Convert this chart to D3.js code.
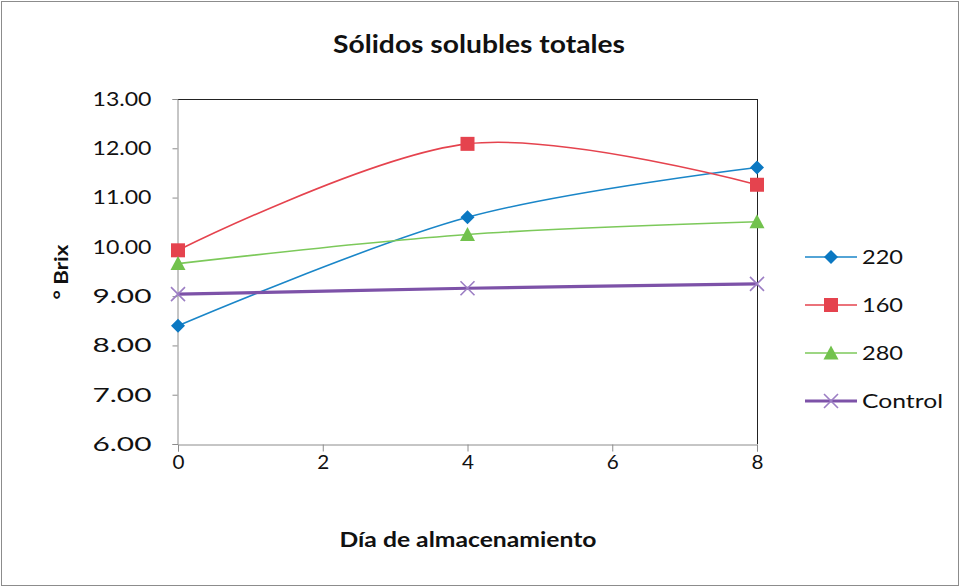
<!DOCTYPE html>
<html><head><meta charset="utf-8">
<script src="https://cdn.jsdelivr.net/npm/d3@7"></script>
<style>body{margin:0;background:#fff}svg{display:block}text{font-family:Lato,"Open Sans",sans-serif;fill:#111}</style>
</head><body><svg id="c" width="961" height="588"></svg>
<script>
const days = [0, 4, 8];
const seriesNames = ["220", "160", "280", "Control"];
const s220 = [8.40, 10.60, 11.61];
const s160 = [9.93, 12.09, 11.26];
const s280 = [9.66, 10.25, 10.51];
const sControl = [9.04, 9.16, 9.25];
const xTicks = [0, 2, 4, 6, 8];
const yTicks = [6, 7, 8, 9, 10, 11, 12, 13];
const colors = ["#1a86c8", "#e5434e", "#7cc95a", "#7d52a8"];
const markerColors = ["#0b78c2", "#e5434e", "#72c24d", "#9c7ec4"];
const shapes = ["diamond", "square", "triangle", "x"];
const values = [s220, s160, s280, sControl];

const svg = d3.select("#c");
svg.append("rect").attr("x", 1.5).attr("y", 1.5).attr("width", 957).attr("height", 584)
  .attr("fill", "#fff").attr("stroke", "#8c8c8c").attr("stroke-width", 1);

const L = 178, R = 757, T = 99, B = 444;
const x = d3.scaleLinear().domain([0, 8]).range([L, R]);
const y = d3.scaleLinear().domain([6, 13]).range([B, T]);

svg.append("line").attr("x1", L).attr("x2", R).attr("y1", T + 0.5).attr("y2", T + 0.5).attr("stroke", "#222");
svg.append("line").attr("x1", R + 0.5).attr("x2", R + 0.5).attr("y1", T).attr("y2", B).attr("stroke", "#222");

const xa = svg.append("g").attr("transform", `translate(0,${B + 0.5})`)
  .call(d3.axisBottom(x).tickValues(xTicks).tickFormat(d3.format("d")).tickSize(7).tickPadding(3));
const ya = svg.append("g").attr("transform", `translate(${L - 0.5},0)`)
  .call(d3.axisLeft(y).tickValues(yTicks).tickFormat(d3.format(".2f")).tickSize(5).tickPadding(21));
[xa, ya].forEach(g => {
  g.select(".domain").attr("stroke", "#8c8c8c");
  g.selectAll(".tick line").attr("stroke", "#8c8c8c");
  g.selectAll("text").attr("font-size", 20).attr("fill", "#111").style("font-family", "Lato, sans-serif");
});
ya.selectAll("text").attr("textLength", 59).attr("lengthAdjust", "spacingAndGlyphs");
xa.selectAll("text").attr("textLength", 12).attr("lengthAdjust", "spacingAndGlyphs");

svg.append("text").attr("x", 479).attr("y", 53).attr("text-anchor", "middle")
  .attr("font-size", 25).attr("font-weight", "bold")
  .attr("textLength", 292).attr("lengthAdjust", "spacingAndGlyphs").text("Sólidos solubles totales");
svg.append("text").attr("x", 468).attr("y", 547).attr("text-anchor", "middle")
  .attr("font-size", 21).attr("font-weight", "bold")
  .attr("textLength", 257).attr("lengthAdjust", "spacingAndGlyphs").text("Día de almacenamiento");
svg.append("text").attr("transform", "translate(68,272) rotate(-90)").attr("text-anchor", "middle")
  .attr("font-size", 19).attr("font-weight", "bold")
  .attr("textLength", 55).attr("lengthAdjust", "spacingAndGlyphs").text("° Brix");

function marker(g, shape, cx, cy, col) {
  if (shape === "diamond") {
    g.append("path").attr("d", `M${cx},${cy-7}L${cx+7},${cy}L${cx},${cy+7}L${cx-7},${cy}Z`).attr("fill", col);
  } else if (shape === "square") {
    g.append("rect").attr("x", cx - 7).attr("y", cy - 7).attr("width", 14).attr("height", 14).attr("fill", col);
  } else if (shape === "triangle") {
    g.append("path").attr("d", `M${cx},${cy-7.5}L${cx+7.5},${cy+6.5}L${cx-7.5},${cy+6.5}Z`).attr("fill", col);
  } else {
    g.append("path").attr("d", `M${cx-7},${cy-7}L${cx+7},${cy+7}M${cx-7},${cy+7}L${cx+7},${cy-7}`)
      .attr("stroke", col).attr("stroke-width", 1.6);
  }
}

const line = d3.line().x((d, i) => x(days[i])).y(d => y(d)).curve(d3.curveCardinal.tension(0));
values.forEach((vals, k) => {
  const g = svg.append("g");
  g.append("path").datum(vals).attr("d", line).attr("fill", "none")
    .attr("stroke", colors[k]).attr("stroke-width", k === 3 ? 3.2 : 1.6);
  vals.forEach((v, i) => marker(g, shapes[k], x(days[i]), y(v), markerColors[k]));
});

const legY = [257, 305, 353, 401];
const legW = [41, 41, 41, 81];
seriesNames.forEach((n, k) => {
  const g = svg.append("g");
  g.append("line").attr("x1", 805).attr("x2", 857).attr("y1", legY[k]).attr("y2", legY[k])
    .attr("stroke", colors[k]).attr("stroke-width", k === 3 ? 3.2 : 1.6);
  marker(g, shapes[k], 831, legY[k], markerColors[k]);
  g.append("text").attr("x", 862).attr("y", legY[k] + 7).attr("font-size", 20)
    .attr("textLength", legW[k]).attr("lengthAdjust", "spacingAndGlyphs").text(n);
});
</script></body></html>
